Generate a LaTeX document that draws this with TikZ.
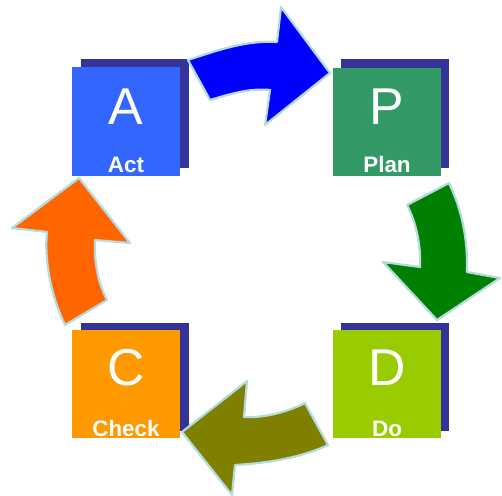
\documentclass[tikz,border=0pt]{standalone}
\usepackage{fontspec}
\setmainfont{Liberation Sans}
\definecolor{actblue}{HTML}{3366FF}
\definecolor{plangreen}{HTML}{339966}
\definecolor{dolime}{HTML}{99CC00}
\definecolor{checkorange}{HTML}{FF9900}
\definecolor{cardshadow}{HTML}{333399}
\definecolor{arrowblue}{HTML}{0000FF}
\definecolor{arrowgreen}{HTML}{008000}
\definecolor{arrowolive}{HTML}{808000}
\definecolor{arroworange}{HTML}{FF6600}
\definecolor{arrowedge}{HTML}{B4DCE0}
\tikzset{
	shadowcard/.style={fill=cardshadow, minimum size=108bp, inner sep=0pt},
	stepcard/.style={minimum size=108bp, inner sep=0pt},
	bigletter/.style={text=white, font=\fontsize{52}{52}\selectfont, anchor=base, inner sep=0pt},
	stepword/.style={text=white, font=\bfseries\fontsize{22.5}{22.5}\selectfont, anchor=base, inner sep=0pt},
	bentarrow/.style={draw=arrowedge, line width=2.2bp, line join=round}
}

\begin{document}
\begin{tikzpicture}[x=1bp, y=-1bp]
			%%%%% START %%%%%
			\useasboundingbox (0,0) rectangle (502,496);
			
			% cards with their shadows
			\node[shadowcard] (actshadow) at (134.5,113.5) {};
			\node[stepcard, fill=actblue] (act) at (126,121.5) {};
			\node[bigletter] (actletter) at (126,125) {A};
			\node[stepword] (actword) at (126,173) {Act};
			
			\node[shadowcard] (planshadow) at (395,113.5) {};
			\node[stepcard, fill=plangreen] (plan) at (387,122) {};
			\node[bigletter] (planletter) at (387,125) {P};
			\node[stepword] (planword) at (387,173) {Plan};
			
			\node[shadowcard] (doshadow) at (395,376.5) {};
			\node[stepcard, fill=dolime] (do) at (387,383.5) {};
			\node[bigletter] (doletter) at (387,385) {D};
			\node[stepword] (doword) at (387,436) {Do};
			
			\node[shadowcard] (checkshadow) at (134.5,376.5) {};
			\node[stepcard, fill=checkorange] (check) at (126,383.5) {};
			\node[bigletter] (checkletter) at (126,385) {C};
			\node[stepword] (checkword) at (126,436) {Check};
			
			% curved arrows round the cycle
			\draw[bentarrow, fill=arrowblue] (188,60) .. controls (218,50) and (247,40) .. (277,42) -- (281,7) -- (330,73) -- (265,125) -- (270,90) .. controls (250,88) and (230,94) .. (210,100) -- cycle;
			
			\draw[bentarrow, fill=arrowgreen] (449,183) .. controls (462,210) and (468,240) .. (467,272) -- (500,278) -- (437,320) -- (383,262) -- (420,267) .. controls (421,245) and (416,222) .. (407,205) -- cycle;
			
			\draw[bentarrow, fill=arrowolive] (305,403) -- (328,445) .. controls (300,458) and (268,463) .. (235,465) -- (232,495) -- (182,432) -- (247,381) -- (244,417) .. controls (265,418) and (287,412) .. (305,403) -- cycle;
			
			\draw[bentarrow, fill=arroworange] (65,325) -- (107,300) .. controls (98,283) and (94,262) .. (95,240) -- (130,243) -- (79,178) -- (12,228) -- (47,232) .. controls (44,260) and (51,296) .. (65,325) -- cycle;
			
			%%%%% END %%%%%
\end{tikzpicture}
\end{document}
